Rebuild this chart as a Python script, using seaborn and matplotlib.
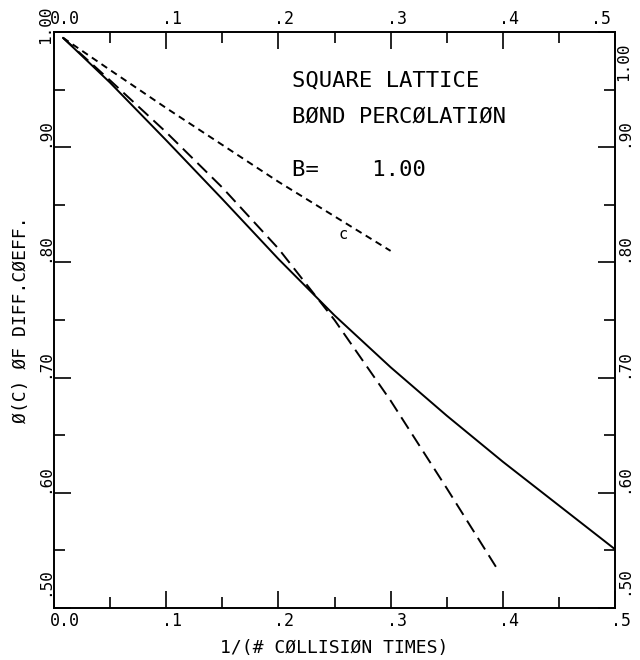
import numpy as np
import pandas as pd
import matplotlib
matplotlib.use("Agg")
import matplotlib.pyplot as plt
import seaborn as sns
from matplotlib.ticker import MultipleLocator
from matplotlib.transforms import ScaledTranslation

# ---- data ----
solid_x = [0.008, 0.05, 0.10, 0.15, 0.20, 0.25, 0.30, 0.35, 0.40, 0.45, 0.50]
solid_y = [0.995, 0.956, 0.906, 0.855, 0.803, 0.754, 0.709, 0.667, 0.627, 0.589, 0.551]

long_x = [0.008, 0.05, 0.10, 0.15, 0.20, 0.25, 0.30, 0.35, 0.395]
long_y = [0.995, 0.958, 0.913, 0.865, 0.812, 0.750, 0.680, 0.604, 0.534]

short_x = [0.008, 0.05, 0.10, 0.15, 0.20, 0.25, 0.30]
short_y = [0.995, 0.967, 0.934, 0.902, 0.870, 0.840, 0.810]

x_ticks = [0.0, 0.1, 0.2, 0.3, 0.4, 0.5]
x_tick_labels = ["0.0", ".1", ".2", ".3", ".4", ".5"]
y_ticks = [0.5, 0.6, 0.7, 0.8, 0.9, 1.0]
y_tick_labels = [".50", ".60", ".70", ".80", ".90", "1.00"]

title_lines = ["SQUARE LATTICE", "BØND PERCØLATIØN", "B=    1.00"]
title_x = [0.2125, 0.2125, 0.2125]
title_y = [0.958, 0.927, 0.880]
curve_label = "c"
curve_label_pos = (0.258, 0.824)

x_label = "1/(# CØLLISIØN TIMES)"
y_label = "Ø(C) ØF DIFF.CØEFF."

# ---- build table ----
df = pd.concat([
    pd.DataFrame({"x": solid_x, "y": solid_y, "curve": "solid"}),
    pd.DataFrame({"x": long_x, "y": long_y, "curve": "long"}),
    pd.DataFrame({"x": short_x, "y": short_y, "curve": "short"}),
], ignore_index=True)

sns.set_theme(style="ticks", rc={
    "axes.edgecolor": "black", "xtick.color": "black", "ytick.color": "black",
    "text.color": "black", "axes.labelcolor": "black",
})
plt.rcParams["font.family"] = ["DejaVu Sans Mono", "DejaVu Sans"]

W, H = 640, 660
L, R, T, B = 54, 615, 32, 608
fig = plt.figure(figsize=(W / 100, H / 100), dpi=100)
ax = fig.add_axes([L / W, 1 - B / H, (R - L) / W, (B - T) / H])

sns.lineplot(data=df, x="x", y="y", hue="curve", style="curve",
             palette={"solid": "black", "long": "black", "short": "black"},
             dashes={"solid": "", "long": (7, 3.5), "short": (3.5, 2.5)},
             sort=False, estimator=None, legend=False, linewidth=1.4, ax=ax)

ax.set_xlim(0, 0.5)
ax.set_ylim(0.5, 1.0)
ax.set_xticks(x_ticks, labels=x_tick_labels)
ax.set_yticks(y_ticks, labels=y_tick_labels)
ax.xaxis.set_minor_locator(MultipleLocator(0.05))
ax.yaxis.set_minor_locator(MultipleLocator(0.05))

for s in ax.spines.values():
    s.set_linewidth(1.4)

ax.tick_params(which="both", direction="in", top=True, right=True,
               labeltop=True, labelright=True, width=1.2)
ax.tick_params(axis="x", labelsize=12)
ax.tick_params(axis="y", labelsize=11.5)
ax.tick_params(which="major", length=12)
ax.tick_params(which="minor", length=8)
ax.tick_params(axis="x", which="major", pad=3)
ax.tick_params(axis="y", which="major", pad=1)


def px(dx, dy):
    return ScaledTranslation(dx / 100, dy / 100, fig.dpi_scale_trans)


xt = ax.xaxis.get_major_ticks()
for i, t in enumerate(xt):
    for lab in (t.label1, t.label2):
        lab.set_horizontalalignment("left")
        lab.set_transform(lab.get_transform() + px(-4, 0))
# top-right ".5" sits left of the corner
xt[-1].label2.set_horizontalalignment("right")

yt = ax.yaxis.get_major_ticks()
for i, t in enumerate(yt):
    t.label1.set_rotation(90)
    t.label1.set_verticalalignment("bottom")
    t.label1.set_horizontalalignment("right")
    t.label2.set_rotation(90)
    t.label2.set_verticalalignment("bottom")
    t.label2.set_horizontalalignment("left")
# corner labels nudged as in the reference
yt[0].label1.set_transform(yt[0].label1.get_transform() + px(0, 12))
yt[0].label2.set_transform(yt[0].label2.get_transform() + px(0, 13))
yt[-1].label1.set_transform(yt[-1].label1.get_transform() + px(0, -12))
yt[-1].label2.set_verticalalignment("top")
yt[-1].label2.set_transform(yt[-1].label2.get_transform() + px(0, -10))

ax.set_xlabel(x_label, fontsize=13, va="center")
ax.xaxis.set_label_coords(0.5, -0.069)
ax.set_ylabel(y_label, fontsize=13, va="center")
ax.yaxis.set_label_coords(-0.058, 0.5)

for txt, tx, ty in zip(title_lines, title_x, title_y):
    ax.text(tx, ty, txt, fontsize=16, ha="left", va="center")
ax.text(curve_label_pos[0], curve_label_pos[1], curve_label, fontsize=11,
        ha="center", va="center")

fig.savefig("out.png", dpi=100)
